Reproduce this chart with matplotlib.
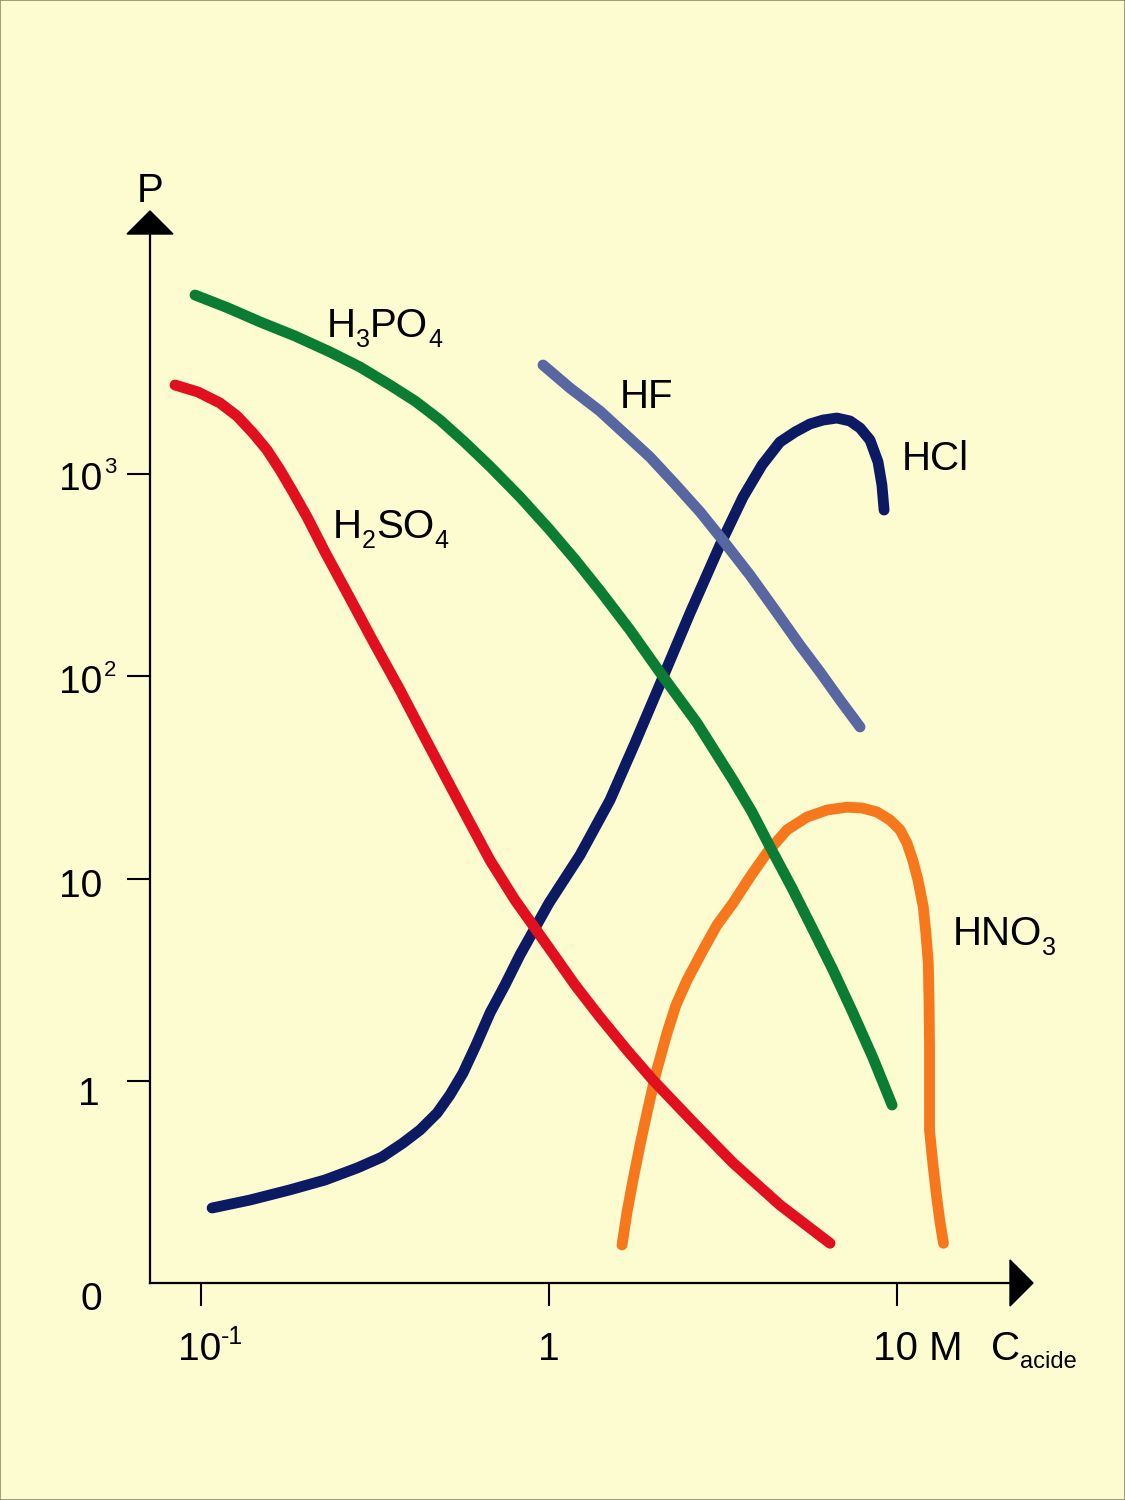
import matplotlib
matplotlib.use("Agg")
import matplotlib.pyplot as plt
from matplotlib.patches import Polygon, Rectangle
from matplotlib.ticker import NullLocator

W, H = 1125, 1500
plt.rcParams['font.family'] = ['Liberation Sans', 'DejaVu Sans']

# ---------------- data (concentration in M, P) ----------------
h3po4_c = [0.0961, 0.1196, 0.148, 0.1863, 0.235, 0.2863, 0.349, 0.4121, 0.486, 0.5735, 0.677, 0.8255,
           1.0, 1.188, 1.40, 1.709, 2.08, 2.663, 3.38, 3.831, 4.32, 4.991, 5.74, 6.549, 7.47, 8.531, 9.68]
h3po4_p = [7610, 6567, 5600, 4776, 3980, 3357, 2735, 2280, 1837, 1423, 1083, 765.6,
           532, 376, 264.4, 168.7, 104.7, 58.6, 30.6, 21.3, 14.3, 8.98, 5.57, 3.53, 2.17, 1.30, 0.761]

h2so4_c = [0.0842, 0.0980, 0.1134, 0.1269, 0.141, 0.1548, 0.1687, 0.1838, 0.2017, 0.2272, 0.263,
           0.3119, 0.373, 0.4402, 0.519, 0.5929, 0.677, 0.7984, 1.0, 1.188, 1.40, 1.676, 1.99,
           2.593, 3.38, 4.611, 6.42]
h2so4_p = [2735, 2527, 2229, 1923, 1585, 1306, 1041, 810, 610, 409, 257,
           148.9, 85.3, 49.4, 28.9, 18.8, 12.3, 7.83, 4.54, 2.98, 2.07, 1.42, 1.01,
           0.627, 0.394, 0.244, 0.158]

hcl_c = [0.1076, 0.1383, 0.180, 0.2272, 0.281, 0.3313, 0.3805, 0.4259, 0.477, 0.519, 0.566, 0.6170,
         0.677, 0.7473, 0.825, 1.0, 1.228, 1.497, 1.767, 2.08, 2.543, 3.10, 3.61, 4.094, 4.61,
         5.093, 5.62, 6.131, 6.72, 7.328, 7.83, 8.364, 8.82, 9.05, 9.18]
hcl_p = [0.236, 0.2584, 0.290, 0.3245, 0.372, 0.4213, 0.494, 0.5728, 0.695, 0.8528, 1.095, 1.506,
         2.17, 2.98, 4.19, 7.57, 13.06, 24.4, 46.7, 90.3, 204.8, 443, 765, 1102, 1431,
         1603, 1756, 1837, 1879, 1817, 1678, 1463, 1140, 877, 660]

hf_c = [0.961, 1.149, 1.40, 1.653, 1.95, 2.302, 2.72, 3.205, 3.78, 4.461, 5.26, 6.008, 6.86, 7.83]
hf_p = [3435, 2643, 2036, 1567, 1206, 887, 645, 453.6, 315, 211.8, 142, 104.7, 76.1, 56.0]

hno3_c = [1.621, 1.676, 1.743, 1.826, 1.912, 2.030, 2.184, 2.317, 2.493, 2.77, 3.039, 3.38, 3.78,
          4.23, 4.83, 5.51, 6.293, 7.18, 7.934, 8.76, 9.548, 10.2, 10.68, 11.1, 11.49, 11.9,
          12.12, 12.3, 12.36, 12.4, 12.4, 12.4, 12.69, 13.0, 13.29, 13.6]
hno3_p = [0.155, 0.2254, 0.324, 0.483, 0.695, 1.095, 1.73, 2.373, 3.15, 4.43, 5.894, 7.57, 10.17,
          13.4, 17.4, 20.1, 21.79, 22.5, 22.29, 21.3, 19.45, 17.4, 14.97, 12.3, 9.83, 7.23,
          5.26, 3.83, 2.51, 1.47, 0.903, 0.573, 0.385, 0.267, 0.2012, 0.158]

x_ticks = [0.1, 1, 10]
y_ticks = [1, 10, 100, 1000]

# ---------------- figure ----------------
BG = '#FDFBD0'
fig = plt.figure(figsize=(W / 100, H / 100), dpi=100, facecolor=BG)
ax = fig.add_axes([150 / W, 1 - 1283 / H, (1010 - 150) / W, (1283 - 233) / H])
ax.set_facecolor('none')
ax.set_xscale('log')
ax.set_yscale('log')
ax.set_xlim(10 ** -1.1466, 10 ** 1.3247)
ax.set_ylim(10 ** -0.9975, 10 ** 4.1877)

for s in ['top', 'right']:
    ax.spines[s].set_visible(False)
for s in ['left', 'bottom']:
    ax.spines[s].set_linewidth(1.6)
ax.set_xticks(x_ticks)
ax.set_yticks(y_ticks)
ax.xaxis.set_minor_locator(NullLocator())
ax.yaxis.set_minor_locator(NullLocator())
ax.tick_params(direction='out', length=16.5, width=1.5, labelleft=False, labelbottom=False)

lw = 7.8
kw = dict(lw=lw, solid_capstyle='round', solid_joinstyle='round', clip_on=False)
ax.plot(hno3_c, hno3_p, color='#F7781C', zorder=3, **kw)
ax.plot(hcl_c, hcl_p, color='#0B1A63', zorder=4, **kw)
ax.plot(h2so4_c, h2so4_p, color='#E2101E', zorder=5, **kw)
ax.plot(hf_c, hf_p, color='#5866A2', zorder=6, **kw)
ax.plot(h3po4_c, h3po4_p, color='#0A7D33', zorder=7, **kw)

# arrow heads
def fpt(x, y):
    return (x / W, 1 - y / H)

fig.add_artist(Polygon([fpt(150, 211), fpt(127, 234), fpt(173, 234)], closed=True,
                       color='black', transform=fig.transFigure))
fig.add_artist(Polygon([fpt(1033, 1283), fpt(1010, 1260), fpt(1010, 1306)], closed=True,
                       color='black', transform=fig.transFigure))
fig.add_artist(Rectangle((0, 0), 1, 1, transform=fig.transFigure, fill=False,
                         edgecolor='#8d8d6a', lw=1.2))

# ---------------- text ----------------
renderer = fig.canvas.get_renderer()

def put(x, y, s, size, ha='left'):
    return fig.text(x / W, 1 - y / H, s, fontsize=size, ha=ha, va='baseline', color='black')

def chem(x, y, parts, size=29, sub_size=18, drop=10):
    for s, sub in parts:
        t = put(x, y + (drop if sub else 0), s, sub_size if sub else size)
        x += t.get_window_extent(renderer).width

put(137, 202, 'P', 29)
chem(327, 337, [('H', 0), ('3', 1), ('PO', 0), ('4', 1)])
chem(333, 538, [('H', 0), ('2', 1), ('SO', 0), ('4', 1)])
put(620, 408, 'HF', 29)
put(902, 470, 'HCl', 29)
chem(953, 945, [('HNO', 0), ('3', 1)])

# y tick labels
put(102, 490, '10', 28, ha='right')
put(104, 473, '3', 16)
put(102, 693, '10', 28, ha='right')
put(104, 676, '2', 16)
put(102, 897, '10', 28, ha='right')
put(100, 1105, '1', 28, ha='right')
put(102, 1310, '0', 28, ha='right')

# x tick labels
put(200, 1360, '10', 28, ha='center')
put(221, 1344, '-1', 18)
put(549, 1360, '1', 28, ha='center')
put(873, 1360, '10 M', 29)
chem(991, 1360, [('C', 0), ('acide', 1)], size=29, sub_size=17, drop=8)

fig.savefig('out.png', dpi=100, facecolor=BG)
